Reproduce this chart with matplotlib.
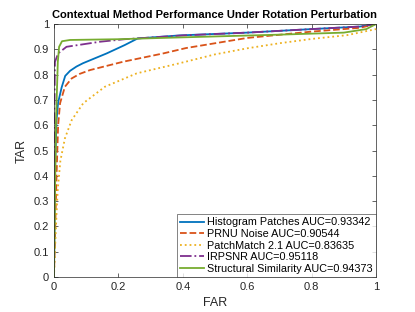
import matplotlib
matplotlib.use("Agg")
import matplotlib.pyplot as plt

plt.rcParams["font.family"] = ["Liberation Sans", "DejaVu Sans"]

hist_far = [0, 0.004, 0.008, 0.013, 0.024, 0.035, 0.05, 0.07, 0.09, 0.164, 0.22, 0.26, 0.39, 0.6, 0.8, 0.95, 1]
hist_tar = [0, 0.45, 0.62, 0.69, 0.75, 0.795, 0.815, 0.832, 0.845, 0.884, 0.917, 0.943, 0.955, 0.966, 0.98, 0.99, 1]

prnu_far = [0, 0.008, 0.013, 0.019, 0.034, 0.055, 0.08, 0.112, 0.215, 0.34, 0.41, 0.5, 0.6, 0.8, 0.95, 1]
prnu_tar = [0, 0.4, 0.6, 0.687, 0.752, 0.785, 0.803, 0.818, 0.851, 0.884, 0.905, 0.924, 0.945, 0.97, 0.985, 1]

pm_far = [0, 0.003, 0.008, 0.012, 0.02, 0.034, 0.055, 0.091, 0.158, 0.257, 0.39, 0.5, 0.6, 0.7, 0.8, 0.91, 1]
pm_tar = [0, 0.1, 0.25, 0.35, 0.46, 0.548, 0.62, 0.687, 0.752, 0.805, 0.845, 0.88, 0.904, 0.924, 0.941, 0.956, 0.98]

irp_far = [0, 0.001, 0.003, 0.013, 0.039, 0.143, 0.22, 0.4, 0.6, 0.8, 0.95, 1]
irp_tar = [0, 0.6, 0.85, 0.884, 0.91, 0.93, 0.94, 0.955, 0.966, 0.98, 0.99, 1]

ssim_far = [0, 0.006, 0.012, 0.016, 0.025, 0.05, 0.2, 0.39, 0.7, 0.9, 0.97, 1]
ssim_tar = [0, 0.6, 0.85, 0.91, 0.932, 0.937, 0.94, 0.947, 0.958, 0.966, 0.98, 1]

labels = [
    "Histogram Patches AUC=0.93342",
    "PRNU Noise AUC=0.90544",
    "PatchMatch 2.1 AUC=0.83635",
    "IRPSNR AUC=0.95118",
    "Structural Similarity AUC=0.94373",
]

fig = plt.figure(figsize=(4.15, 3.12), dpi=100)
ax = fig.add_axes([0.130, 0.112, 0.776, 0.811])

ax.plot(hist_far, hist_tar, color="#0072BD", lw=1.3, ls="-", label=labels[0])
ax.plot(prnu_far, prnu_tar, color="#D95319", lw=1.3, ls="--", label=labels[1])
ax.plot(pm_far, pm_tar, color="#EDB120", lw=1.3, ls=":", label=labels[2])
ax.plot(irp_far, irp_tar, color="#7E2F8E", lw=1.3, ls="-.", label=labels[3])
ax.plot(ssim_far, ssim_tar, color="#77AC30", lw=1.3, ls="-", label=labels[4])

ax.set_xlim(0, 1)
ax.set_ylim(0, 1)
ax.set_xticks([0, 0.2, 0.4, 0.6, 0.8, 1])
ax.set_xticklabels(["0", "0.2", "0.4", "0.6", "0.8", "1"])
ax.set_yticks([i / 10 for i in range(11)])
ax.set_yticklabels(["0"] + [f"{i / 10:.1f}" for i in range(1, 10)] + ["1"])
ax.tick_params(direction="in", top=True, right=True, labelsize=8, length=3,
               width=0.5, colors="#262626")
for s in ax.spines.values():
    s.set_linewidth(0.5)
    s.set_color("#262626")

ax.set_xlabel("FAR", fontsize=9, color="#262626")
ax.set_ylabel("TAR", fontsize=9, color="#262626")
ax.set_title("Contextual Method Performance Under Rotation Perturbation",
             fontsize=8, fontweight="bold", pad=4)

leg = ax.legend(loc="lower right", fontsize=7.8, frameon=True, fancybox=False,
                borderaxespad=0, handlelength=2.2, handletextpad=0.3,
                labelspacing=0.15, borderpad=0.3)
leg.get_frame().set_edgecolor("#262626")
leg.get_frame().set_linewidth(0.5)

fig.savefig("out.png", dpi=100)
